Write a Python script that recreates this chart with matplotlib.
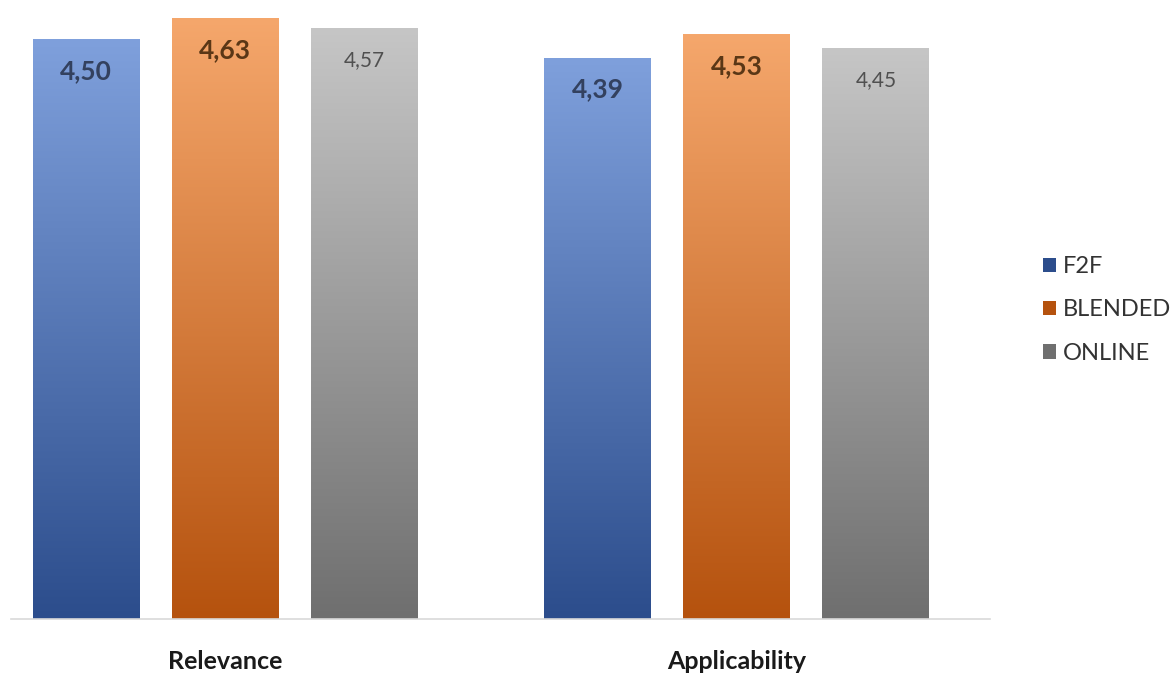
import numpy as np
import matplotlib
matplotlib.use("Agg")
import matplotlib.pyplot as plt
from matplotlib.colors import to_rgb
from matplotlib.patches import Patch

plt.rcParams["font.family"] = ["Lato", "DejaVu Sans"]

# ----------------------------- data -----------------------------------------
categories = ["Relevance", "Applicability"]
series = ["F2F", "BLENDED", "ONLINE"]
f2f = [4.50, 4.39]
blended = [4.63, 4.53]
online = [4.57, 4.45]
values = [f2f, blended, online]

# gradient colours (top, bottom) and label styling per series
grad = {
    "F2F": ("#7fa0dc", "#2c4d8c"),
    "BLENDED": ("#f5a76c", "#b5520e"),
    "ONLINE": ("#c6c6c6", "#6f6f6f"),
}
label_color = {"F2F": "#33415f", "BLENDED": "#5a3716", "ONLINE": "#505050"}
label_weight = {"F2F": "bold", "BLENDED": "bold", "ONLINE": "normal"}
label_size = {"F2F": 19, "BLENDED": 19, "ONLINE": 15}
ymin = 1.0


def gradient_bar(ax, bar, top, bottom):
    x0, y0 = bar.get_x(), bar.get_y()
    x1, y1 = x0 + bar.get_width(), y0 + bar.get_height()
    t = np.linspace(0, 1, 256)[:, None]
    c0, c1 = np.array(to_rgb(top)), np.array(to_rgb(bottom))
    img = (c0 * (1 - t) + c1 * t)[:, None, :]
    im = ax.imshow(img, extent=(x0, x1, y0, y1), aspect="auto",
                   origin="upper", zorder=2, interpolation="bilinear")
    im.set_clip_path(bar)


W, H = 1173, 673
fig = plt.figure(figsize=(W / 100, H / 100), dpi=100)
ax = fig.add_axes([11 / W, 54 / H, (990 - 11) / W, 619 / H])

x = np.arange(len(categories))
width = 0.209
step = 0.272
for i, (name, vals) in enumerate(zip(series, values)):
    pos = x + (i - 1) * step
    bars = ax.bar(pos, np.array(vals) - ymin, width, bottom=ymin,
                  color="none", edgecolor="none", zorder=2)
    for b, v in zip(bars, vals):
        gradient_bar(ax, b, *grad[name])
        ax.annotate(f"{v:.2f}".replace(".", ","),
                    (b.get_x() + b.get_width() / 2, v),
                    xytext=(0, -32), textcoords="offset pixels",
                    ha="center", va="center", fontsize=label_size[name],
                    fontweight=label_weight[name], color=label_color[name],
                    zorder=3)

ax.set_xlim(-0.419, 1.495)
ax.set_ylim(ymin, 4.738)
ax.set_xticks(x)
ax.set_xticklabels(categories, fontsize=18, fontweight="bold", color="#1a1a1a")
ax.tick_params(axis="x", length=0, pad=22)
ax.set_yticks([])
for s in ["top", "right", "left"]:
    ax.spines[s].set_visible(False)
ax.spines["bottom"].set_color("#d9d9d9")
ax.spines["bottom"].set_linewidth(1.2)

handles = [Patch(facecolor=grad[n][1], edgecolor="none") for n in series]
fig.legend(handles, series, loc="center left", bbox_to_anchor=(1022 / W, 1 - 310 / H),
           frameon=False, fontsize=17, handlelength=0.55, handleheight=0.55,
           handletextpad=0.3, labelspacing=0.95, labelcolor="#333333")

fig.savefig("out.png", dpi=100)
